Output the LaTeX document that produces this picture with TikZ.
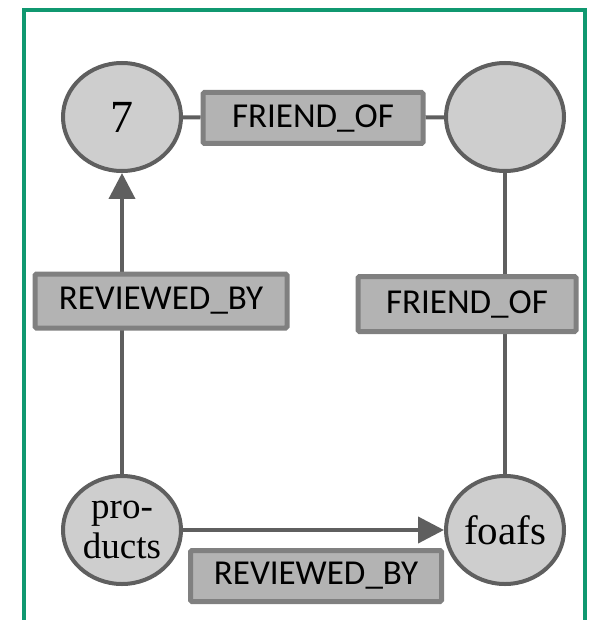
\documentclass[tikz,border=0pt]{standalone}
\usepackage{fontspec}
\setmainfont{Liberation Serif}
\newfontfamily\relfont{Carlito}
\usepackage{tikz}
\usetikzlibrary{arrows.meta, shapes.geometric}
\definecolor{frameGreen}{RGB}{16,152,112}
\definecolor{wireGray}{RGB}{95,95,95}
\definecolor{vertexFill}{RGB}{206,206,206}
\definecolor{relFill}{RGB}{179,179,179}
\definecolor{relLine}{RGB}{128,128,128}
\tikzset{
    vertex/.style={ellipse, draw=wireGray, line width=4pt, fill=vertexFill,
        minimum width=118pt, minimum height=108pt, inner sep=0pt, align=center},
    relbox/.style={rectangle, draw=relLine, line width=5pt, fill=relFill, rounded corners=1.5pt,
        minimum height=51pt, inner sep=0pt, font=\relfont\fontsize{35}{35}\selectfont},
    wire/.style={draw=wireGray, line width=4pt},
}

\begin{document}
\begin{tikzpicture}[x=1pt, y=-1pt]
        \useasboundingbox (0,0) rectangle (589,620);
        \draw[frameGreen, line width=4pt] (24,620) -- (24,10) -- (585,10) -- (585,620);

        \node (seven) at (122,117)[vertex, font=\fontsize{46}{46}\selectfont] {7};
        \node (anon) at (505,117)[vertex] {};
        \node (products) at (122,530)[vertex, font=\fontsize{37}{40}\selectfont] {pro-\\ducts};
        \node (foafs) at (505,530)[vertex, font=\fontsize{41}{41}\selectfont] {foafs};

        \draw[wire, -{Triangle[length=26pt, width=26pt]}] (products) -- (seven);
        \draw[wire] (foafs) -- (anon);
        \draw[wire, -{Triangle[length=26pt, width=26pt]}] (products.east) -- (foafs.west);

        \node (friendTop) at (313,118)[relbox, minimum width=220pt] {FRIEND\_OF};
        \draw[wire] (seven) -- (friendTop);
        \draw[wire] (friendTop) -- (anon);

        \node (reviewedLeft) at (161,301)[relbox, minimum width=252pt, minimum height=54pt] {REVIEWED\_BY};
        \node (friendRight) at (467,304)[relbox, minimum width=218pt, minimum height=55pt] {FRIEND\_OF};
        \node (reviewedBottom) at (316,576)[relbox, minimum width=251pt] {REVIEWED\_BY};

    \end{tikzpicture}
\end{document}
